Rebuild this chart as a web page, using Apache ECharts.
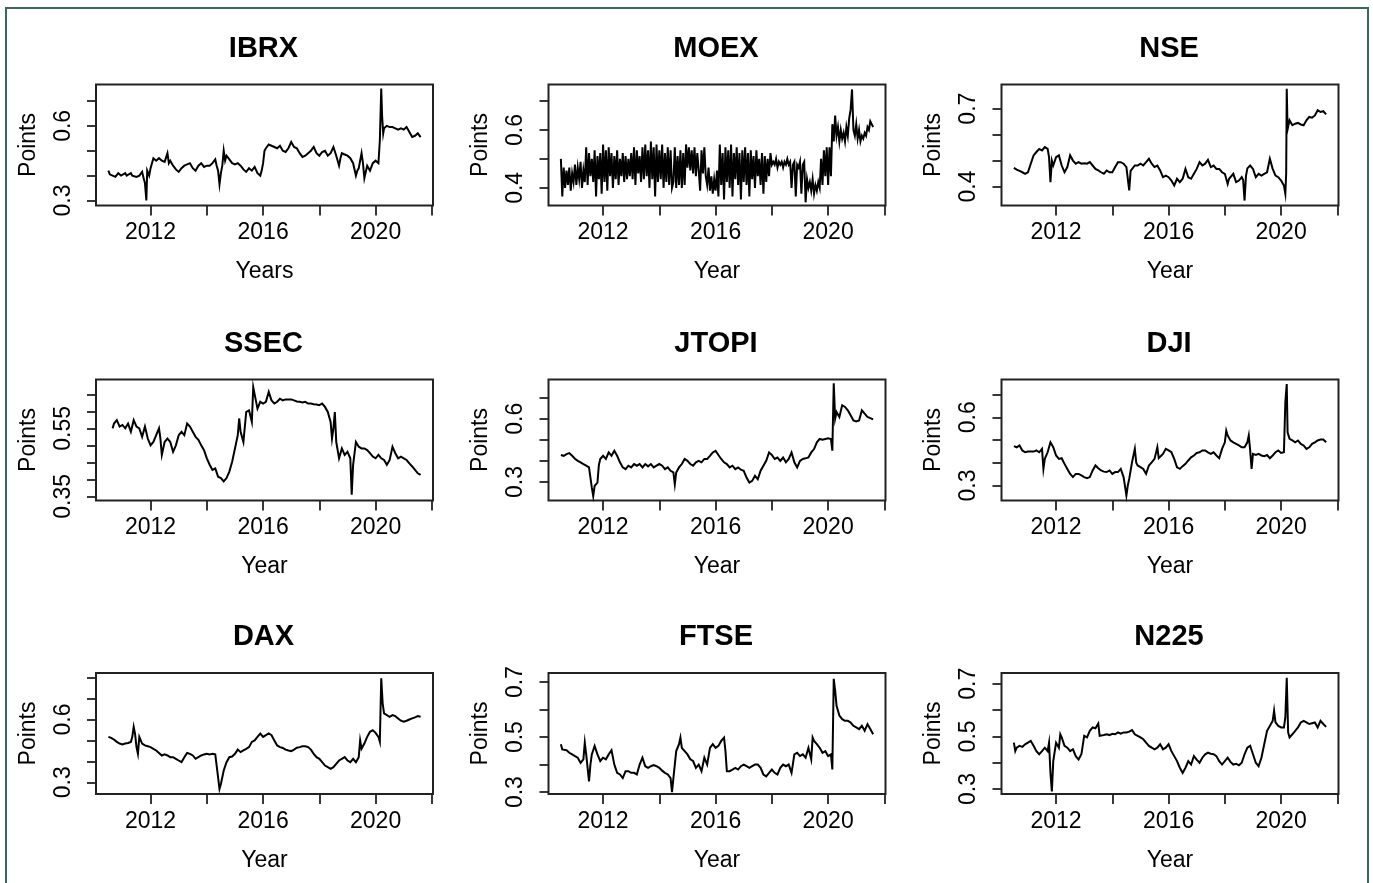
<!DOCTYPE html>
<html>
<head>
<meta charset="utf-8">
<title>Index series</title>
<script src="https://cdn.jsdelivr.net/npm/echarts@6.0.0/dist/echarts.min.js"></script>
<style>
  html, body { margin: 0; padding: 0; background: #fff; }
  #main { width: 1373px; height: 883px; }
</style>
</head>
<body>
<div id="main"></div>
<script>
// 各指数序列 [年份, 数值]
var ibrx = [[2010.5,.42],[2010.55,.405],[2010.6,.41],[2010.65,.40],[2010.7,.405],[2010.75,.395],[2010.8,.40],[2010.85,.41],[2010.9,.41],[2010.95,.40],[2011.0,.405],[2011.1,.41],[2011.15,.40],[2011.2,.40],[2011.3,.41],[2011.35,.40],[2011.4,.40],[2011.5,.395],[2011.6,.40],[2011.7,.415],[2011.75,.39],[2011.8,.37],[2011.85,.30],[2011.88,.42],[2011.95,.40],[2012.0,.43],[2012.1,.47],[2012.2,.46],[2012.3,.47],[2012.4,.46],[2012.5,.455],[2012.6,.49],[2012.65,.45],[2012.7,.46],[2012.8,.44],[2012.9,.425],[2013.0,.415],[2013.1,.43],[2013.2,.44],[2013.3,.445],[2013.4,.45],[2013.5,.43],[2013.6,.42],[2013.7,.44],[2013.8,.45],[2013.9,.435],[2014.0,.44],[2014.1,.44],[2014.2,.45],[2014.3,.465],[2014.35,.44],[2014.4,.42],[2014.45,.365],[2014.5,.41],[2014.55,.44],[2014.6,.50],[2014.65,.46],[2014.7,.48],[2014.8,.465],[2014.9,.45],[2015.0,.445],[2015.1,.45],[2015.2,.44],[2015.3,.425],[2015.4,.415],[2015.5,.43],[2015.6,.42],[2015.7,.435],[2015.8,.41],[2015.9,.40],[2015.95,.42],[2016.0,.45],[2016.05,.50],[2016.1,.51],[2016.2,.525],[2016.3,.52],[2016.4,.515],[2016.5,.51],[2016.6,.52],[2016.7,.50],[2016.8,.495],[2016.9,.51],[2017.0,.535],[2017.1,.515],[2017.2,.51],[2017.3,.49],[2017.4,.475],[2017.5,.48],[2017.6,.49],[2017.7,.50],[2017.8,.515],[2017.9,.49],[2018.0,.48],[2018.1,.495],[2018.2,.50],[2018.3,.48],[2018.4,.49],[2018.5,.515],[2018.6,.48],[2018.7,.44],[2018.75,.47],[2018.8,.49],[2018.9,.485],[2019.0,.48],[2019.1,.47],[2019.2,.45],[2019.3,.40],[2019.35,.42],[2019.4,.43],[2019.5,.49],[2019.55,.45],[2019.6,.39],[2019.7,.44],[2019.8,.42],[2019.9,.45],[2020.0,.46],[2020.1,.45],[2020.15,.54],[2020.2,.75],[2020.23,.64],[2020.27,.57],[2020.3,.59],[2020.4,.60],[2020.5,.595],[2020.6,.595],[2020.7,.59],[2020.8,.585],[2020.9,.59],[2021.0,.585],[2021.1,.595],[2021.2,.575],[2021.3,.555],[2021.4,.56],[2021.5,.57],[2021.6,.555]];

// MOEX 波动大，按 0.05 年等间隔记录
var moexStart = 2010.5, moexStep = 0.05;
var moexVals = [
  0.50,0.37,0.47,0.40,0.46,0.41,0.47,0.39,0.45,0.42,
  0.48,0.41,0.47,0.43,0.49,0.40,0.46,0.42,0.54,0.41,0.52,0.44,0.50,0.42,0.53,0.37,0.51,0.43,0.52,0.38,
  0.55,0.42,0.53,0.39,0.54,0.44,0.52,0.40,0.51,0.43,0.53,0.41,0.50,0.44,0.52,0.42,0.51,0.43,0.50,0.44,
  0.52,0.43,0.54,0.41,0.53,0.45,0.51,0.42,0.54,0.43,0.55,0.44,0.53,0.40,0.56,0.43,0.54,0.37,0.55,0.42,
  0.53,0.43,0.55,0.40,0.52,0.42,0.54,0.41,0.53,0.40,0.42,0.54,0.40,0.51,0.41,0.53,0.40,0.52,0.41,0.55,
  0.47,0.54,0.46,0.53,0.45,0.54,0.44,0.52,0.46,0.39,0.53,0.45,0.54,0.44,0.41,0.47,0.39,0.44,0.38,0.43,
  0.39,0.46,0.37,0.55,0.41,0.52,0.36,0.54,0.42,0.53,0.40,0.55,0.37,0.52,0.43,0.54,0.41,0.52,0.36,0.53,
  0.42,0.54,0.41,0.52,0.37,0.53,0.43,0.51,0.40,0.53,0.44,0.50,0.41,0.52,0.38,0.51,0.42,0.50,0.44,0.52,
  0.48,0.49,0.48,0.50,0.47,0.49,0.48,0.49,0.47,0.49,0.48,0.50,0.48,0.49,0.40,0.48,0.49,0.37,0.48,0.47,
  0.49,0.38,0.48,0.49,0.35,0.43,0.40,0.42,0.39,0.43,0.38,0.41,0.39,0.42,0.40,0.50,0.41,0.53,0.44,0.54,
  0.41,0.54,0.44,0.62,0.56,0.65,0.58,0.61,0.56,0.60,0.57,0.59,0.56,0.61,0.58,0.64,0.67,0.74,0.60,0.58,
  0.62,0.57,0.60,0.56,0.58,0.57,0.59,0.58,0.61,0.60,0.63,0.62,0.61
];

var nse = [[2010.5,.472],[2010.6,.465],[2010.7,.46],[2010.8,.455],[2010.9,.449],[2011.0,.455],[2011.1,.488],[2011.2,.52],[2011.3,.533],[2011.4,.545],[2011.5,.539],[2011.6,.552],[2011.7,.545],[2011.75,.513],[2011.8,.417],[2011.85,.50],[2011.9,.481],[2012.0,.513],[2012.1,.52],[2012.2,.481],[2012.3,.455],[2012.4,.475],[2012.5,.52],[2012.6,.50],[2012.7,.488],[2012.8,.494],[2012.9,.488],[2013.0,.49],[2013.1,.488],[2013.2,.494],[2013.3,.481],[2013.4,.468],[2013.5,.462],[2013.6,.455],[2013.7,.449],[2013.8,.462],[2013.9,.455],[2014.0,.455],[2014.1,.475],[2014.2,.494],[2014.3,.494],[2014.4,.488],[2014.5,.475],[2014.55,.47],[2014.6,.385],[2014.65,.46],[2014.7,.462],[2014.8,.481],[2014.9,.481],[2015.0,.488],[2015.1,.481],[2015.2,.494],[2015.3,.507],[2015.4,.488],[2015.5,.475],[2015.6,.481],[2015.7,.462],[2015.8,.436],[2015.9,.442],[2016.0,.436],[2016.1,.423],[2016.2,.404],[2016.3,.43],[2016.4,.417],[2016.5,.43],[2016.6,.468],[2016.7,.436],[2016.8,.43],[2016.9,.449],[2017.0,.468],[2017.1,.494],[2017.2,.481],[2017.3,.488],[2017.4,.503],[2017.5,.475],[2017.6,.481],[2017.7,.468],[2017.8,.468],[2017.9,.455],[2018.0,.449],[2018.1,.41],[2018.15,.43],[2018.2,.43],[2018.3,.449],[2018.4,.417],[2018.5,.423],[2018.6,.436],[2018.65,.425],[2018.7,.346],[2018.75,.44],[2018.8,.47],[2018.9,.481],[2019.0,.468],[2019.1,.436],[2019.2,.449],[2019.3,.442],[2019.4,.449],[2019.5,.455],[2019.6,.507],[2019.7,.468],[2019.8,.442],[2019.9,.436],[2020.0,.423],[2020.1,.404],[2020.15,.372],[2020.18,.45],[2020.2,.777],[2020.23,.62],[2020.3,.655],[2020.4,.636],[2020.5,.642],[2020.6,.645],[2020.7,.639],[2020.8,.636],[2020.9,.655],[2021.0,.668],[2021.1,.665],[2021.2,.674],[2021.3,.694],[2021.4,.687],[2021.5,.69],[2021.6,.678]];

var ssec = [[2010.65,.55],[2010.7,.564],[2010.8,.574],[2010.9,.555],[2011.0,.56],[2011.1,.55],[2011.2,.564],[2011.3,.54],[2011.4,.574],[2011.5,.555],[2011.6,.55],[2011.7,.525],[2011.8,.555],[2011.9,.52],[2012.0,.50],[2012.1,.51],[2012.2,.53],[2012.3,.55],[2012.35,.52],[2012.4,.472],[2012.5,.51],[2012.6,.52],[2012.7,.51],[2012.8,.481],[2012.9,.50],[2013.0,.53],[2013.1,.54],[2013.2,.53],[2013.3,.564],[2013.4,.555],[2013.5,.54],[2013.6,.525],[2013.7,.516],[2013.8,.50],[2013.9,.486],[2014.0,.462],[2014.1,.443],[2014.2,.428],[2014.3,.432],[2014.4,.408],[2014.5,.404],[2014.6,.394],[2014.7,.404],[2014.8,.423],[2014.9,.452],[2015.0,.491],[2015.1,.53],[2015.15,.579],[2015.2,.54],[2015.3,.51],[2015.4,.598],[2015.5,.603],[2015.6,.569],[2015.65,.671],[2015.7,.666],[2015.8,.608],[2015.9,.628],[2016.0,.623],[2016.1,.628],[2016.2,.657],[2016.3,.632],[2016.4,.623],[2016.5,.628],[2016.6,.637],[2016.7,.632],[2016.8,.635],[2016.9,.635],[2017.0,.635],[2017.1,.632],[2017.2,.629],[2017.3,.628],[2017.4,.626],[2017.5,.628],[2017.6,.623],[2017.7,.623],[2017.8,.621],[2017.9,.62],[2018.0,.618],[2018.1,.623],[2018.2,.613],[2018.3,.598],[2018.4,.569],[2018.45,.52],[2018.5,.55],[2018.55,.598],[2018.6,.51],[2018.7,.462],[2018.8,.491],[2018.9,.472],[2019.0,.481],[2019.1,.462],[2019.15,.355],[2019.2,.443],[2019.3,.51],[2019.4,.496],[2019.5,.491],[2019.6,.491],[2019.7,.486],[2019.8,.477],[2019.9,.467],[2020.0,.462],[2020.1,.472],[2020.2,.462],[2020.3,.457],[2020.4,.443],[2020.5,.457],[2020.6,.496],[2020.7,.477],[2020.8,.462],[2020.9,.467],[2021.0,.462],[2021.1,.457],[2021.2,.447],[2021.3,.438],[2021.4,.428],[2021.5,.418],[2021.6,.413]];

var jtopi = [[2010.5,.428],[2010.6,.424],[2010.7,.432],[2010.8,.437],[2010.9,.424],[2011.0,.41],[2011.1,.40],[2011.2,.393],[2011.3,.385],[2011.4,.377],[2011.5,.369],[2011.55,.36],[2011.6,.273],[2011.65,.233],[2011.7,.281],[2011.8,.297],[2011.85,.38],[2011.9,.409],[2012.0,.424],[2012.1,.409],[2012.2,.44],[2012.3,.424],[2012.4,.448],[2012.5,.424],[2012.6,.393],[2012.7,.369],[2012.8,.361],[2012.9,.377],[2013.0,.369],[2013.1,.385],[2013.2,.377],[2013.3,.385],[2013.4,.369],[2013.5,.385],[2013.6,.374],[2013.7,.385],[2013.8,.369],[2013.9,.377],[2014.0,.385],[2014.1,.377],[2014.2,.361],[2014.3,.369],[2014.4,.353],[2014.5,.345],[2014.55,.289],[2014.6,.345],[2014.7,.369],[2014.8,.385],[2014.9,.409],[2015.0,.40],[2015.1,.385],[2015.2,.377],[2015.3,.393],[2015.4,.40],[2015.5,.393],[2015.6,.409],[2015.7,.409],[2015.8,.424],[2015.9,.44],[2016.0,.448],[2016.1,.428],[2016.2,.409],[2016.3,.393],[2016.4,.385],[2016.5,.369],[2016.6,.377],[2016.7,.361],[2016.8,.369],[2016.9,.358],[2017.0,.353],[2017.1,.321],[2017.2,.297],[2017.3,.305],[2017.4,.329],[2017.5,.313],[2017.6,.353],[2017.7,.377],[2017.8,.40],[2017.9,.44],[2018.0,.428],[2018.1,.409],[2018.2,.416],[2018.3,.40],[2018.4,.416],[2018.5,.393],[2018.6,.409],[2018.7,.44],[2018.8,.393],[2018.9,.369],[2019.0,.40],[2019.1,.409],[2019.2,.412],[2019.3,.416],[2019.4,.44],[2019.5,.456],[2019.6,.488],[2019.7,.504],[2019.8,.50],[2019.9,.504],[2020.0,.507],[2020.1,.504],[2020.15,.448],[2020.2,.768],[2020.25,.60],[2020.3,.632],[2020.4,.608],[2020.5,.664],[2020.6,.656],[2020.7,.64],[2020.8,.616],[2020.9,.592],[2021.0,.587],[2021.1,.592],[2021.2,.64],[2021.3,.624],[2021.4,.608],[2021.5,.603],[2021.6,.597]];

var dji = [[2010.5,.473],[2010.6,.468],[2010.7,.476],[2010.8,.454],[2010.9,.446],[2011.0,.449],[2011.1,.449],[2011.2,.449],[2011.3,.454],[2011.4,.446],[2011.5,.461],[2011.55,.373],[2011.6,.417],[2011.7,.446],[2011.8,.49],[2011.9,.468],[2012.0,.432],[2012.1,.417],[2012.2,.42],[2012.3,.395],[2012.4,.373],[2012.5,.351],[2012.6,.337],[2012.7,.351],[2012.8,.351],[2012.9,.344],[2013.0,.337],[2013.1,.332],[2013.2,.337],[2013.3,.366],[2013.4,.388],[2013.5,.376],[2013.6,.366],[2013.7,.361],[2013.8,.359],[2013.9,.366],[2014.0,.351],[2014.1,.359],[2014.2,.359],[2014.3,.373],[2014.4,.337],[2014.5,.256],[2014.55,.30],[2014.6,.329],[2014.7,.402],[2014.8,.461],[2014.85,.40],[2014.9,.388],[2015.0,.381],[2015.1,.373],[2015.2,.351],[2015.3,.388],[2015.4,.402],[2015.5,.417],[2015.6,.468],[2015.65,.42],[2015.7,.417],[2015.8,.439],[2015.9,.461],[2016.0,.454],[2016.1,.446],[2016.2,.417],[2016.3,.38],[2016.4,.373],[2016.5,.385],[2016.6,.395],[2016.7,.41],[2016.8,.424],[2016.9,.432],[2017.0,.443],[2017.1,.446],[2017.2,.454],[2017.3,.454],[2017.4,.446],[2017.5,.439],[2017.6,.446],[2017.7,.432],[2017.8,.42],[2017.9,.461],[2018.0,.49],[2018.05,.541],[2018.1,.52],[2018.2,.498],[2018.3,.49],[2018.4,.483],[2018.5,.476],[2018.6,.468],[2018.7,.468],[2018.8,.49],[2018.85,.52],[2018.9,.454],[2018.95,.373],[2019.0,.439],[2019.1,.434],[2019.2,.439],[2019.3,.432],[2019.4,.429],[2019.5,.434],[2019.6,.42],[2019.7,.432],[2019.8,.446],[2019.9,.454],[2020.0,.443],[2020.1,.446],[2020.15,.666],[2020.2,.746],[2020.23,.534],[2020.3,.505],[2020.4,.498],[2020.5,.49],[2020.6,.498],[2020.7,.483],[2020.8,.476],[2020.9,.461],[2021.0,.468],[2021.1,.483],[2021.2,.49],[2021.3,.498],[2021.4,.502],[2021.5,.502],[2021.6,.49]];

var dax = [[2010.5,.517],[2010.6,.512],[2010.7,.504],[2010.8,.493],[2010.9,.485],[2011.0,.481],[2011.1,.485],[2011.2,.488],[2011.3,.493],[2011.35,.517],[2011.4,.565],[2011.45,.53],[2011.5,.468],[2011.55,.436],[2011.6,.517],[2011.7,.485],[2011.8,.476],[2011.9,.472],[2012.0,.468],[2012.1,.46],[2012.2,.452],[2012.3,.44],[2012.4,.428],[2012.5,.433],[2012.6,.428],[2012.7,.42],[2012.8,.42],[2012.9,.412],[2013.0,.404],[2013.1,.396],[2013.2,.42],[2013.3,.44],[2013.4,.436],[2013.5,.428],[2013.6,.412],[2013.7,.42],[2013.8,.428],[2013.9,.433],[2014.0,.436],[2014.1,.433],[2014.2,.436],[2014.3,.433],[2014.35,.428],[2014.4,.324],[2014.45,.268],[2014.5,.292],[2014.6,.356],[2014.7,.396],[2014.8,.42],[2014.9,.423],[2015.0,.436],[2015.1,.456],[2015.2,.444],[2015.3,.452],[2015.4,.46],[2015.5,.468],[2015.6,.493],[2015.7,.50],[2015.8,.517],[2015.9,.533],[2016.0,.517],[2016.1,.525],[2016.2,.533],[2016.3,.525],[2016.4,.50],[2016.5,.476],[2016.6,.468],[2016.7,.464],[2016.8,.456],[2016.9,.452],[2017.0,.449],[2017.1,.456],[2017.2,.465],[2017.3,.468],[2017.4,.472],[2017.5,.472],[2017.6,.468],[2017.7,.456],[2017.8,.436],[2017.9,.42],[2018.0,.412],[2018.1,.396],[2018.2,.38],[2018.3,.372],[2018.4,.364],[2018.5,.372],[2018.6,.388],[2018.7,.404],[2018.8,.412],[2018.9,.42],[2019.0,.404],[2019.1,.396],[2019.2,.412],[2019.3,.396],[2019.4,.42],[2019.45,.50],[2019.5,.46],[2019.6,.485],[2019.7,.517],[2019.8,.541],[2019.9,.549],[2020.0,.536],[2020.1,.517],[2020.15,.493],[2020.2,.797],[2020.25,.677],[2020.3,.629],[2020.4,.621],[2020.5,.613],[2020.6,.621],[2020.7,.616],[2020.8,.605],[2020.9,.594],[2021.0,.589],[2021.1,.594],[2021.2,.60],[2021.3,.605],[2021.4,.61],[2021.5,.616],[2021.6,.613]];

var ftse = [[2010.5,.474],[2010.55,.455],[2010.6,.461],[2010.7,.452],[2010.8,.443],[2010.9,.437],[2011.0,.431],[2011.1,.425],[2011.2,.406],[2011.3,.419],[2011.35,.48],[2011.4,.437],[2011.45,.388],[2011.5,.339],[2011.55,.40],[2011.6,.437],[2011.7,.468],[2011.8,.437],[2011.9,.413],[2012.0,.425],[2012.1,.419],[2012.2,.437],[2012.3,.452],[2012.4,.40],[2012.5,.37],[2012.6,.364],[2012.7,.351],[2012.8,.376],[2012.9,.376],[2013.0,.37],[2013.1,.37],[2013.2,.364],[2013.3,.40],[2013.4,.425],[2013.5,.394],[2013.6,.388],[2013.7,.394],[2013.8,.398],[2013.9,.394],[2014.0,.388],[2014.1,.378],[2014.2,.37],[2014.3,.364],[2014.4,.351],[2014.45,.30],[2014.5,.351],[2014.6,.449],[2014.7,.474],[2014.75,.498],[2014.8,.461],[2014.9,.449],[2015.0,.437],[2015.1,.419],[2015.2,.413],[2015.3,.388],[2015.4,.40],[2015.5,.376],[2015.6,.425],[2015.7,.40],[2015.8,.461],[2015.9,.474],[2016.0,.461],[2016.1,.468],[2016.2,.486],[2016.3,.498],[2016.35,.45],[2016.4,.376],[2016.5,.376],[2016.6,.382],[2016.7,.388],[2016.8,.382],[2016.9,.394],[2017.0,.40],[2017.1,.394],[2017.2,.388],[2017.3,.394],[2017.4,.40],[2017.5,.40],[2017.6,.388],[2017.7,.364],[2017.8,.357],[2017.9,.37],[2018.0,.382],[2018.1,.37],[2018.2,.364],[2018.3,.388],[2018.4,.40],[2018.5,.394],[2018.6,.40],[2018.7,.37],[2018.8,.437],[2018.9,.443],[2019.0,.431],[2019.1,.437],[2019.2,.425],[2019.3,.461],[2019.4,.419],[2019.45,.498],[2019.5,.486],[2019.6,.474],[2019.7,.461],[2019.8,.443],[2019.9,.449],[2020.0,.431],[2020.1,.437],[2020.15,.382],[2020.2,.712],[2020.25,.669],[2020.3,.614],[2020.4,.578],[2020.5,.565],[2020.6,.559],[2020.7,.559],[2020.8,.553],[2020.9,.541],[2021.0,.535],[2021.1,.529],[2021.2,.541],[2021.3,.523],[2021.4,.547],[2021.5,.529],[2021.6,.51]];

var n225 = [[2010.5,.476],[2010.55,.444],[2010.6,.457],[2010.7,.464],[2010.8,.46],[2010.9,.47],[2011.0,.476],[2011.1,.483],[2011.2,.464],[2011.3,.444],[2011.4,.432],[2011.5,.444],[2011.6,.457],[2011.7,.444],[2011.75,.476],[2011.8,.361],[2011.85,.291],[2011.9,.406],[2012.0,.476],[2012.1,.457],[2012.15,.508],[2012.2,.496],[2012.3,.464],[2012.4,.457],[2012.5,.444],[2012.6,.451],[2012.7,.425],[2012.8,.412],[2012.9,.432],[2013.0,.502],[2013.1,.496],[2013.2,.521],[2013.3,.534],[2013.4,.531],[2013.5,.549],[2013.55,.502],[2013.6,.508],[2013.7,.505],[2013.8,.508],[2013.9,.505],[2014.0,.51],[2014.1,.508],[2014.2,.515],[2014.3,.51],[2014.4,.515],[2014.5,.515],[2014.6,.518],[2014.7,.524],[2014.8,.508],[2014.9,.502],[2015.0,.496],[2015.1,.489],[2015.2,.476],[2015.3,.464],[2015.4,.457],[2015.5,.451],[2015.6,.457],[2015.7,.47],[2015.8,.451],[2015.9,.457],[2016.0,.47],[2016.1,.444],[2016.2,.425],[2016.3,.406],[2016.4,.381],[2016.5,.361],[2016.6,.381],[2016.7,.406],[2016.8,.393],[2016.9,.425],[2017.0,.412],[2017.1,.40],[2017.2,.419],[2017.3,.432],[2017.4,.438],[2017.5,.434],[2017.6,.432],[2017.7,.425],[2017.8,.406],[2017.9,.393],[2018.0,.406],[2018.1,.419],[2018.2,.403],[2018.3,.393],[2018.4,.396],[2018.5,.39],[2018.6,.40],[2018.7,.432],[2018.8,.457],[2018.9,.464],[2019.0,.432],[2019.1,.40],[2019.2,.387],[2019.3,.419],[2019.4,.47],[2019.5,.521],[2019.6,.54],[2019.7,.559],[2019.75,.598],[2019.8,.553],[2019.9,.54],[2020.0,.534],[2020.1,.534],[2020.15,.572],[2020.2,.723],[2020.25,.515],[2020.3,.496],[2020.4,.508],[2020.5,.521],[2020.6,.534],[2020.7,.553],[2020.8,.559],[2020.9,.553],[2021.0,.547],[2021.1,.55],[2021.2,.553],[2021.3,.534],[2021.4,.559],[2021.5,.547],[2021.6,.536]];

// 刻度
var xTicks = [2012, 2014, 2016, 2018, 2020, 2022];
var xLabels = [2012, 2016, 2020];
var yTicks37 = [0.3, 0.4, 0.5, 0.6, 0.7];
var yTicks47 = [0.4, 0.5, 0.6, 0.7];
var yTicks38 = [0.3, 0.4, 0.5, 0.6, 0.7, 0.8];
var yTicksSsec = [0.35, 0.4, 0.45, 0.5, 0.55, 0.6, 0.65];

var moex = moexVals.map(function (v, k) {
    return [+(moexStart + k * moexStep).toFixed(2), v];
});

var panels = [
    { name: 'IBRX',  xName: 'Years', data: ibrx,  yMin: 0.28,  yMax: 0.766, ticks: yTicks37,   labels: [0.3, 0.6] },
    { name: 'MOEX',  xName: 'Year',  data: moex,  yMin: 0.339, yMax: 0.757, ticks: yTicks47,   labels: [0.4, 0.6] },
    { name: 'NSE',   xName: 'Year',  data: nse,   yMin: 0.327, yMax: 0.793, ticks: yTicks47,   labels: [0.4, 0.7] },
    { name: 'SSEC',  xName: 'Year',  data: ssec,  yMin: 0.338, yMax: 0.6935, ticks: yTicksSsec, labels: [0.35, 0.55] },
    { name: 'JTOPI', xName: 'Year',  data: jtopi, yMin: 0.212, yMax: 0.786, ticks: yTicks37,   labels: [0.3, 0.6] },
    { name: 'DJI',   xName: 'Year',  data: dji,   yMin: 0.234, yMax: 0.766, ticks: yTicks37,   labels: [0.3, 0.6] },
    { name: 'DAX',   xName: 'Year',  data: dax,   yMin: 0.244, yMax: 0.822, ticks: yTicks38,   labels: [0.3, 0.6] },
    { name: 'FTSE',  xName: 'Year',  data: ftse,  yMin: 0.293, yMax: 0.733, ticks: yTicks37,   labels: [0.3, 0.5, 0.7] },
    { name: 'N225',  xName: 'Year',  data: n225,  yMin: 0.281, yMax: 0.741, ticks: yTicks37,   labels: [0.3, 0.5, 0.7] }
];

var myChart = echarts.init(document.getElementById('main'));

var font = '"Liberation Sans", Arial, sans-serif';
var colLeft = [96, 548.5, 1001.5];
var rowTop = [84.5, 379.5, 673];
var boxW = 337, boxH = 121;
var ink = '#000';
var axisInk = '#222';

var option = {
    animation: false,
    grid: [],
    xAxis: [],
    yAxis: [],
    series: [],
    graphic: [
        {
            type: 'rect',
            shape: { x: 6, y: 8, width: 1362, height: 900 },
            style: { fill: 'none', stroke: '#3b6858', lineWidth: 2 },
            silent: true
        }
    ]
};

panels.forEach(function (p, i) {
    var left = colLeft[i % 3];
    var top = rowTop[Math.floor(i / 3)];

    option.grid.push({
        left: left, top: top, width: boxW, height: boxH,
        show: true, borderColor: axisInk, borderWidth: 2,
        backgroundColor: 'transparent'
    });

    option.xAxis.push({
        type: 'value', gridIndex: i,
        min: 2010.06, max: 2022.04,
        name: p.xName, nameLocation: 'middle', nameGap: 55,
        nameTextStyle: { fontFamily: font, fontSize: 23, color: ink },
        axisLine: { show: false },
        splitLine: { show: false },
        axisTick: { show: true, inside: false, length: 10, customValues: xTicks,
                    lineStyle: { color: axisInk, width: 1.8 } },
        axisLabel: { customValues: xLabels, margin: 16, fontFamily: font, fontSize: 23, color: ink,
                     formatter: function (v) { return String(v); } }
    });

    option.yAxis.push({
        type: 'value', gridIndex: i,
        min: p.yMin, max: p.yMax,
        name: 'Points', nameLocation: 'middle', nameGap: 56, nameRotate: 90,
        nameTextStyle: { fontFamily: font, fontSize: 23, color: ink },
        axisLine: { show: false },
        splitLine: { show: false },
        axisTick: { show: true, inside: false, length: 9, customValues: p.ticks,
                    lineStyle: { color: axisInk, width: 1.8 } },
        axisLabel: { customValues: p.labels, rotate: 90, margin: 21, fontFamily: font, fontSize: 23, color: ink,
                     formatter: function (v) { return String(v); } }
    });

    option.series.push({
        name: p.name, type: 'line',
        xAxisIndex: i, yAxisIndex: i,
        data: p.data,
        symbol: 'none', showSymbol: false, silent: true,
        lineStyle: { color: ink, width: 2, join: 'miter' }
    });

    option.graphic.push({
        type: 'text',
        x: left + boxW / 2 - 1,
        y: top - 36,
        silent: true,
        style: {
            text: p.name,
            font: 'bold 29px ' + font,
            fill: ink,
            align: 'center', verticalAlign: 'middle',
            textAlign: 'center', textVerticalAlign: 'middle'
        }
    });
});

myChart.setOption(option);
</script>
</body>
</html>
